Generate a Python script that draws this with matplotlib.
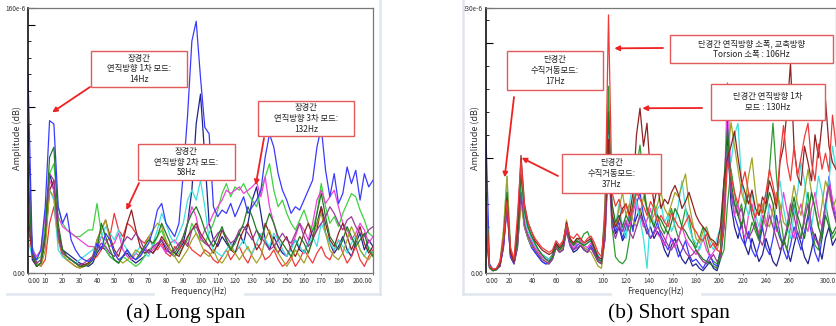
import numpy as np
import matplotlib
matplotlib.use("Agg")
import matplotlib.pyplot as plt
from matplotlib.patches import Rectangle
from matplotlib.lines import Line2D

plt.rcParams['font.family'] = ['Noto Sans CJK KR', 'DejaVu Sans']

# ---- (a) long span : amplitude (x1e-6) every 2.5 Hz, 0..200 Hz ----
freq_long = np.arange(0, 200.1, 2.5)

long_blue = [120, 12, 8, 14, 40, 92, 90, 40, 30, 36,
             20, 14, 10, 8, 7, 8, 18, 14, 24, 20,
             12, 8, 10, 14, 10, 8, 10, 14, 18, 26,
             38, 42, 30, 26, 22, 30, 60, 95, 140, 152,
             118, 88, 84, 40, 34, 38, 36, 42, 34, 40,
             46, 36, 40, 44, 50, 70, 84, 76, 60, 50,
             44, 36, 40, 38, 44, 50, 56, 76, 88, 62,
             46, 60, 42, 48, 64, 54, 62, 44, 60, 52,
             56]
long_navy = [90, 8, 4, 6, 20, 60, 50, 22, 14, 12,
             10, 8, 6, 5, 4, 6, 12, 16, 14, 10,
             8, 6, 10, 12, 8, 6, 8, 10, 14, 12,
             16, 20, 14, 12, 10, 14, 18, 30, 50, 90,
             108, 70, 30, 20, 16, 22, 18, 14, 20, 24,
             18, 30, 44, 52, 36, 20, 14, 22, 16, 12,
             10, 16, 20, 14, 12, 18, 26, 30, 40, 24,
             18, 12, 16, 22, 14, 10, 18, 24, 14, 20,
             16]
long_red = [28, 12, 6, 4, 8, 30, 40, 20, 10, 8,
            6, 4, 3, 4, 6, 8, 10, 14, 18, 22,
            36, 26, 22, 30, 28, 24, 20, 18, 22, 16,
            14, 18, 12, 10, 16, 14, 20, 18, 14, 12,
            10, 14, 12, 8, 6, 10, 14, 8, 12, 16,
            10, 6, 12, 18, 14, 8, 10, 14, 8, 4,
            6, 10, 4, 8, 14, 10, 6, 12, 16, 10,
            8, 14, 20, 12, 6, 10, 16, 8, 4, 10,
            14]
long_green = [44, 16, 8, 10, 30, 60, 66, 40, 30, 26,
              24, 22, 22, 24, 26, 26, 42, 24, 14, 10,
              8, 6, 10, 8, 6, 4, 6, 10, 14, 16,
              22, 26, 18, 14, 10, 12, 16, 20, 30, 24,
              20, 18, 24, 30, 38, 48, 54, 46, 52, 50,
              54, 48, 44, 40, 50, 58, 66, 50, 40, 44,
              36, 30, 26, 32, 38, 30, 26, 36, 54, 40,
              30, 34, 28, 36, 42, 48, 46, 38, 32, 24,
              22]
long_magenta = [40, 14, 10, 14, 36, 56, 50, 34, 28, 26,
                24, 22, 20, 18, 16, 16, 14, 22, 20, 16,
                18, 24, 14, 10, 8, 12, 10, 16, 12, 14,
                18, 16, 12, 18, 20, 16, 22, 30, 40, 34,
                20, 26, 30, 36, 40, 44, 50, 48, 50, 52,
                48, 50, 52, 55, 46, 58, 40, 30, 20, 14,
                10, 16, 22, 30, 26, 20, 30, 44, 50, 42,
                46, 50, 40, 30, 26, 20, 24, 30, 26, 18,
                22]
long_cyan = [20, 10, 6, 8, 20, 50, 44, 14, 10, 8,
             8, 6, 8, 10, 12, 14, 18, 22, 28, 24,
             20, 26, 18, 14, 10, 12, 16, 12, 10, 18,
             26, 36, 30, 22, 18, 24, 30, 44, 50, 44,
             56, 40, 20, 14, 12, 10, 14, 18, 12, 16,
             20, 14, 12, 18, 24, 20, 16, 24, 20, 14,
             10, 14, 20, 16, 12, 18, 22, 16, 30, 24,
             18, 14, 20, 16, 12, 18, 22, 14, 10, 16,
             12]
long_brown = [36, 10, 4, 6, 20, 50, 56, 26, 14, 10,
              8, 6, 4, 5, 6, 10, 20, 26, 32, 22,
              14, 10, 18, 30, 38, 26, 16, 12, 14, 12,
              16, 22, 18, 14, 12, 10, 16, 22, 26, 30,
              24, 20, 16, 12, 18, 26, 20, 14, 12, 20,
              26, 30, 22, 14, 18, 30, 24, 16, 12, 18,
              22, 14, 10, 16, 24, 30, 22, 26, 40, 30,
              20, 16, 24, 30, 22, 14, 20, 28, 18, 12,
              16]
long_olive = [68, 14, 6, 4, 14, 50, 46, 20, 12, 8,
              6, 4, 3, 4, 5, 8, 20, 26, 32, 20,
              12, 8, 6, 8, 10, 14, 12, 16, 22, 26,
              30, 28, 20, 14, 10, 6, 10, 14, 20, 24,
              18, 12, 10, 14, 8, 6, 10, 16, 12, 8,
              12, 16, 10, 6, 10, 20, 26, 18, 12, 8,
              4, 8, 14, 10, 6, 12, 20, 30, 36, 24,
              14, 10, 8, 12, 20, 28, 22, 14, 10, 8,
              12]
long_purple = [50, 14, 6, 8, 24, 60, 56, 22, 12, 10,
               8, 6, 5, 6, 8, 10, 14, 18, 16, 12,
               10, 14, 18, 22, 20, 24, 20, 14, 12, 16,
               18, 20, 16, 12, 14, 18, 20, 16, 26, 28,
               22, 18, 16, 20, 24, 26, 22, 18, 20, 26,
               28, 24, 20, 26, 22, 18, 14, 16, 20, 24,
               20, 18, 24, 30, 22, 16, 20, 26, 30, 34,
               40, 36, 30, 26, 32, 34, 28, 24, 22, 26,
               28]
long_dkgreen = [60, 12, 4, 6, 24, 70, 76, 30, 14, 10,
                8, 6, 4, 4, 5, 8, 14, 30, 22, 14,
                8, 6, 10, 14, 10, 8, 12, 16, 20, 18,
                22, 30, 24, 18, 12, 16, 22, 30, 36, 40,
                34, 26, 20, 16, 22, 28, 20, 14, 18, 24,
                30, 40, 34, 26, 20, 28, 36, 30, 22, 18,
                14, 10, 16, 22, 18, 12, 20, 36, 48, 34,
                22, 18, 14, 20, 28, 22, 16, 20, 24, 14,
                10]

# ---- (b) short span : amplitude (x1e-6) every 3 Hz, 0..300 Hz ----
freq_short = np.arange(0, 300.1, 3)

short_red = [60, 6, 3, 4, 10, 30, 62, 22, 12, 50,
             98, 58, 44, 36, 30, 26, 22, 20, 18, 20,
             28, 24, 28, 42, 32, 30, 34, 30, 26, 30,
             32, 26, 18, 14, 50, 224, 70, 58, 64, 52,
             60, 48, 56, 70, 64, 58, 50, 62, 56, 44,
             50, 44, 40, 52, 46, 40, 38, 44, 50, 40,
             36, 30, 28, 34, 22, 26, 20, 18, 40, 96,
             84, 70, 60, 76, 88, 70, 56, 48, 60, 52,
             70, 90, 76, 60, 100, 128, 96, 80, 110, 84,
             100, 118, 130, 96, 80, 112, 90, 104, 88, 137,
             110]
short_green = [50, 4, 2, 3, 8, 30, 66, 18, 10, 30,
               80, 52, 40, 32, 24, 20, 16, 14, 12, 16,
               26, 22, 24, 40, 28, 26, 30, 28, 34, 36,
               28, 20, 10, 8, 60, 162, 40, 14, 10, 8,
               12, 30, 60, 90, 111, 80, 54, 44, 60, 50,
               40, 34, 46, 56, 40, 30, 42, 56, 48, 30,
               22, 30, 40, 26, 14, 10, 8, 12, 20, 60,
               90, 70, 50, 60, 40, 30, 44, 36, 28, 40,
               60, 90, 130, 84, 50, 30, 20, 40, 60, 44,
               30, 50, 70, 40, 24, 20, 36, 60, 44, 30,
               36]
short_blue = [118, 8, 3, 4, 6, 24, 56, 14, 8, 26,
              70, 40, 30, 22, 18, 14, 10, 8, 10, 14,
              26, 20, 22, 40, 26, 20, 24, 26, 22, 20,
              24, 18, 12, 10, 40, 130, 50, 36, 44, 30,
              40, 50, 36, 60, 70, 50, 40, 30, 36, 44,
              32, 26, 20, 30, 24, 14, 20, 28, 16, 10,
              12, 8, 4, 10, 16, 8, 6, 20, 50, 133,
              70, 50, 40, 30, 24, 36, 20, 14, 24, 40,
              22, 16, 30, 50, 34, 20, 12, 24, 40, 30,
              20, 36, 50, 34, 18, 10, 30, 56, 84, 60,
              46]
short_navy = [40, 5, 2, 3, 6, 22, 60, 14, 8, 22,
              66, 40, 30, 24, 18, 14, 10, 8, 8, 12,
              22, 18, 20, 38, 24, 18, 20, 24, 20, 18,
              22, 16, 10, 8, 30, 110, 46, 34, 40, 28,
              34, 44, 40, 48, 56, 44, 34, 40, 30, 36,
              30, 20, 14, 24, 30, 20, 12, 8, 14, 6,
              8, 4, 2, 6, 10, 4, 2, 12, 40, 120,
              60, 40, 30, 44, 24, 16, 30, 20, 10, 16,
              30, 20, 10, 6, 16, 30, 20, 10, 24, 36,
              26, 14, 8, 20, 34, 24, 12, 30, 40, 24,
              30]
short_magenta = [50, 6, 3, 4, 8, 26, 60, 16, 10, 28,
                 76, 46, 34, 28, 22, 18, 14, 12, 12, 14,
                 24, 20, 22, 40, 26, 22, 26, 28, 24, 22,
                 26, 20, 14, 10, 44, 100, 60, 40, 50, 36,
                 46, 40, 52, 64, 50, 40, 46, 56, 40, 34,
                 30, 24, 36, 28, 22, 30, 40, 30, 24, 20,
                 16, 22, 30, 20, 14, 18, 24, 30, 60, 165,
                 80, 50, 60, 40, 30, 50, 60, 44, 34, 50,
                 40, 60, 50, 36, 46, 70, 54, 40, 30, 50,
                 60, 44, 36, 56, 70, 50, 40, 60, 80, 64,
                 50]
short_cyan = [44, 5, 3, 4, 8, 34, 84, 20, 10, 28,
              78, 48, 36, 30, 24, 20, 16, 14, 12, 14,
              22, 20, 24, 44, 30, 24, 28, 26, 24, 26,
              30, 22, 16, 10, 50, 120, 56, 40, 60, 40,
              30, 60, 80, 60, 46, 30, 4, 50, 40, 56,
              60, 44, 50, 36, 44, 60, 80, 56, 40, 30,
              26, 20, 30, 40, 26, 20, 30, 40, 80, 110,
              96, 120, 130, 80, 60, 50, 70, 50, 40, 56,
              70, 50, 40, 60, 80, 56, 40, 30, 50, 70,
              96, 80, 56, 40, 60, 84, 70, 50, 80, 110,
              90]
short_brown = [56, 6, 3, 4, 8, 28, 64, 18, 10, 40,
               102, 60, 44, 36, 28, 24, 20, 18, 16, 18,
               26, 22, 26, 44, 30, 26, 30, 30, 26, 28,
               30, 22, 14, 12, 44, 116, 50, 40, 46, 56,
               60, 50, 70, 120, 143, 110, 130, 84, 60, 76,
               56, 64, 60, 70, 76, 68, 56, 62, 70, 60,
               50, 44, 40, 36, 30, 28, 24, 40, 80, 100,
               110, 123, 100, 80, 70, 60, 72, 56, 50, 66,
               60, 80, 70, 56, 96, 110, 140, 182, 110, 84,
               76, 110, 96, 80, 120, 100, 130, 150, 110, 96,
               90]
short_olive = [64, 6, 3, 4, 10, 38, 84, 22, 10, 24,
               60, 40, 30, 24, 20, 16, 12, 10, 8, 12,
               22, 18, 22, 46, 30, 24, 28, 26, 22, 20,
               18, 12, 6, 4, 30, 110, 50, 40, 56, 70,
               50, 60, 46, 40, 50, 66, 56, 44, 50, 60,
               70, 56, 50, 60, 70, 66, 76, 86, 60, 44,
               30, 26, 36, 40, 30, 24, 20, 30, 70, 100,
               131, 110, 90, 70, 60, 84, 100, 70, 50, 60,
               44, 40, 56, 70, 60, 44, 40, 56, 76, 60,
               50, 70, 90, 70, 56, 40, 60, 80, 70, 56,
               64]
short_purple = [30, 5, 2, 3, 6, 24, 58, 16, 8, 24,
                70, 42, 32, 26, 20, 16, 12, 10, 8, 12,
                22, 18, 20, 36, 24, 20, 22, 24, 20, 18,
                22, 16, 10, 8, 30, 96, 40, 30, 40, 36,
                44, 36, 30, 40, 50, 44, 36, 30, 34, 40,
                36, 30, 24, 20, 26, 30, 24, 18, 14, 16,
                20, 14, 10, 8, 12, 16, 10, 14, 50, 110,
                70, 60, 50, 56, 40, 30, 36, 44, 30, 24,
                36, 50, 40, 30, 20, 26, 40, 60, 50, 34,
                30, 46, 60, 40, 30, 24, 40, 60, 76, 56,
                44]
short_dkgreen = [70, 5, 2, 3, 8, 30, 70, 18, 10, 30,
                 86, 54, 40, 32, 26, 20, 16, 12, 10, 14,
                 24, 20, 24, 42, 28, 24, 28, 26, 24, 26,
                 28, 20, 12, 10, 50, 140, 60, 44, 50, 40,
                 50, 44, 60, 70, 84, 70, 56, 48, 40, 50,
                 46, 40, 34, 44, 56, 50, 40, 36, 30, 26,
                 20, 16, 12, 10, 8, 6, 4, 20, 80, 125,
                 80, 60, 50, 40, 56, 70, 50, 40, 30, 44,
                 56, 70, 60, 40, 30, 24, 36, 50, 66, 50,
                 40, 30, 50, 70, 56, 40, 30, 50, 40, 34,
                 40]

long_series = [(long_navy, '#22228a'), (long_red, '#f03a3a'), (long_green, '#3fd23f'),
               (long_magenta, '#f040d8'), (long_cyan, '#3de0e0'), (long_brown, '#8e2222'),
               (long_olive, '#a3a326'), (long_purple, '#9a3a9a'), (long_dkgreen, '#237a23'),
               (long_blue, '#3a3aff')]
short_series = [(short_navy, '#22228a'), (short_green, '#2f9a2f'), (short_blue, '#3a3aff'),
                (short_magenta, '#f040d8'), (short_cyan, '#3de0e0'), (short_olive, '#a3a326'),
                (short_purple, '#9a3a9a'), (short_dkgreen, '#237a23'), (short_brown, '#8e2222'),
                (short_red, '#f03a3a')]

long_xticks = [0, 10, 20, 30, 40, 50, 60, 70, 80, 90, 100, 110, 120, 130, 140, 150, 160, 170, 180, 200]
long_xlabels = ['0.00'] + [str(t) for t in long_xticks[1:-1]] + ['200.00']
short_xticks = [0, 20, 40, 60, 80, 100, 120, 140, 160, 180, 200, 220, 240, 260, 300]
short_xlabels = ['0.00'] + [str(t) for t in short_xticks[1:-1]] + ['300.0']

W, H = 837, 326
fig = plt.figure(figsize=(W / 100, H / 100), dpi=100)


def fx(px):
    return px / W


def fy(py):
    return 1 - py / H


def setup(ax, xmax, ymax, xt, xl, ymaj, yminor_step, ylabels):
    ax.set_xlim(0, xmax)
    ax.set_ylim(0, ymax)
    ax.set_xticks(xt)
    ax.set_xticklabels(xl, fontsize=4.6, color='#333333')
    labs = ax.get_xticklabels()
    labs[0].set_ha('left')
    labs[-1].set_ha('right')
    ax.set_yticks(ymaj)
    ax.set_yticklabels(ylabels, fontsize=4.6, color='#333333')
    ax.set_yticks(np.arange(0, ymax, yminor_step), minor=True)
    ax.tick_params(axis='x', direction='out', length=1.5, width=0.6, pad=1.2, color='#555555')
    ax.tick_params(axis='y', which='major', direction='in', length=5, width=0.8, pad=2)
    ax.tick_params(axis='y', which='minor', direction='in', length=2.5, width=0.6)
    for s in ['top', 'right', 'bottom']:
        ax.spines[s].set_color('#777777')
        ax.spines[s].set_linewidth(0.9)
    ax.spines['left'].set_color('#111111')
    ax.spines['left'].set_linewidth(1.2)


# left panel
ax1 = fig.add_axes([fx(28), fy(273), fx(373) - fx(28), fy(8) - fy(273)])
for vals, col in long_series:
    assert len(vals) == len(freq_long)
    ax1.plot(freq_long, vals, color=col, lw=0.9)
setup(ax1, 200, 160, long_xticks, long_xlabels, [0, 50, 100, 150, 160], 10,
      ['0.00', '', '', '', '160e-6'])

# right panel
ax2 = fig.add_axes([fx(486), fy(273), fx(836) - fx(486), fy(8) - fy(273)])
for vals, col in short_series:
    assert len(vals) == len(freq_short)
    ax2.plot(freq_short, vals, color=col, lw=0.9)
setup(ax2, 300, 230, short_xticks, short_xlabels, [0, 100, 200, 230], 20,
      ['0.00', '', '', '230e-6'])

# axis titles
for x in (199, 656):
    fig.text(fx(x), fy(291), 'Frequency(Hz)', ha='center', va='center', fontsize=6, color='#333333')
for x in (17, 475):
    fig.text(fx(x), fy(138), 'Amplitude (dB)', ha='center', va='center', fontsize=6.5,
             color='#333333', rotation=90)

# light panel frames
frame_col = '#dfe6ee'
for (x0, y0, x1, y1) in [(380, 0, 380, 294), (7, 294, 153, 294), (245, 294, 380, 294),
                         (463, 0, 463, 294), (463, 294, 610, 294), (702, 294, 837, 294)]:
    fig.add_artist(Line2D([fx(x0), fx(x1)], [fy(y0), fy(y1)], color=frame_col, lw=1.8))

# annotation boxes (pixel box, text)
boxes = [
    ((91, 51, 187, 87), '장경간\n연직방향 1차 모드:\n14Hz'),
    ((138, 144, 235, 180), '장경간\n연직방향 2차 모드:\n58Hz'),
    ((258, 101, 354, 136), '장경간\n연직방향 3차 모드:\n132Hz'),
    ((507, 51, 603, 90), '단경간\n수직거동모드:\n17Hz'),
    ((562, 154, 661, 193), '단경간\n수직거동모드:\n37Hz'),
    ((670, 35, 833, 63), '단경간 연직방향 소폭, 교축방향\nTorsion 소폭 : 106Hz'),
    ((711, 84, 825, 120), '단경간 연직방향 1차\n모드 : 130Hz'),
]
for (x0, y0, x1, y1), txt in boxes:
    fig.add_artist(Rectangle((fx(x0), fy(y1)), fx(x1) - fx(x0), fy(y0) - fy(y1),
                             facecolor='white', edgecolor='#e45a5a', lw=1.0, zorder=5))
    fig.text(fx((x0 + x1) / 2), fy((y0 + y1) / 2), txt, ha='center', va='center',
             fontsize=6, color='#222222', linespacing=1.25, zorder=6)

# arrows: (axis, tip in data units, tail in pixels)
arrows = [
    (ax1, (14, 97), (90, 87)),
    (ax1, (57, 38), (139, 183)),
    (ax1, (132, 53), (264, 138)),
    (ax2, (16, 83), (514, 97)),
    (ax2, (30.5, 100), (558, 176)),
    (ax2, (110, 195), (663, 48)),
    (ax2, (134, 143), (702, 108)),
]
for ax, tip, tail in arrows:
    ax.annotate('', xy=tip, xycoords='data', xytext=(fx(tail[0]), fy(tail[1])),
                textcoords='figure fraction', annotation_clip=False,
                arrowprops=dict(arrowstyle='-|>', color='#ee2222', lw=1.3,
                                mutation_scale=7, shrinkA=0, shrinkB=0))

# captions
fig.text(fx(186), fy(313), '(a) Long span', ha='center', va='center', fontsize=15.5,
         family='Liberation Serif')
fig.text(fx(669), fy(313), '(b) Short span', ha='center', va='center', fontsize=15.5,
         family='Liberation Serif')

fig.savefig('out.png', dpi=100)
